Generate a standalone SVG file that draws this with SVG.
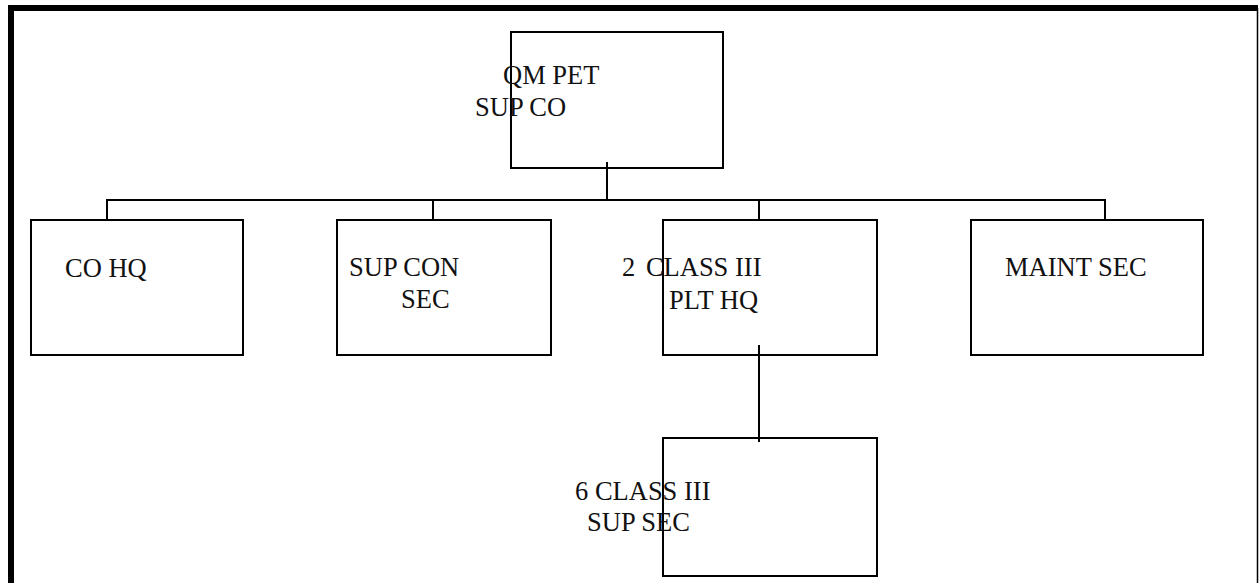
<svg xmlns="http://www.w3.org/2000/svg" width="1259" height="583" viewBox="0 0 1259 583">
<style>
.box{fill:none;stroke:#000;stroke-width:2}
.con{fill:none;stroke:#000;stroke-width:2}
text{font-family:"Liberation Serif","Times New Roman",serif;font-size:26.5px;fill:#111}
</style>
<rect x="0" y="0" width="1259" height="583" fill="#fff"/>
<g id="frame">
<path d="M11 583 V8 H1258" fill="none" stroke="#000" stroke-width="6"/>
<line x1="1257.5" y1="8" x2="1257.5" y2="583" stroke="#000" stroke-width="1.5"/>
</g>
<g id="connectors">
<line class="con" x1="607" y1="162" x2="607" y2="200"/>
<polyline class="con" points="107,220 107,200 1105,200 1105,220"/>
<line class="con" x1="433" y1="200" x2="433" y2="220"/>
<line class="con" x1="759" y1="200" x2="759" y2="220"/>
<line class="con" x1="759" y1="345" x2="759" y2="442"/>
</g>
<g id="qm-pet-sup-co">
<rect class="box" x="511" y="32" width="212" height="136"/>
<text x="503" y="84">QM PET</text>
<text x="475" y="116">SUP CO</text>
</g>
<g id="co-hq">
<rect class="box" x="31" y="220" width="212" height="135"/>
<text x="65" y="277">CO HQ</text>
</g>
<g id="sup-con-sec">
<rect class="box" x="337" y="220" width="214" height="135"/>
<text x="349" y="276">SUP CON</text>
<text x="401" y="308">SEC</text>
</g>
<g id="class-iii-plt-hq">
<rect class="box" x="663" y="220" width="214" height="135"/>
<text x="622" y="276">2 <tspan dx="4">CLASS III</tspan></text>
<text x="669" y="309">PLT HQ</text>
</g>
<g id="maint-sec">
<rect class="box" x="971" y="220" width="232" height="135"/>
<text x="1005" y="276">MAINT SEC</text>
</g>
<g id="class-iii-sup-sec">
<rect class="box" x="663" y="438" width="214" height="138"/>
<text x="575" y="500">6 CLASS III</text>
<text x="587" y="531">SUP SEC</text>
</g>
</svg>
